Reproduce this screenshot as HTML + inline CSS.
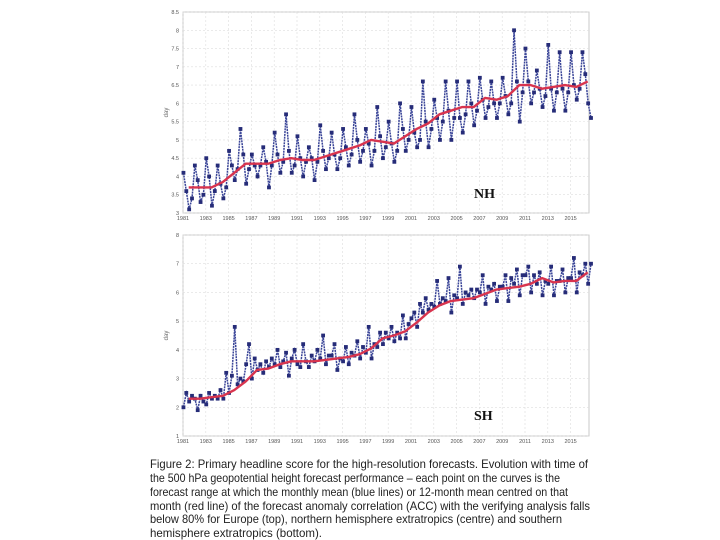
<!DOCTYPE html>
<html><head><meta charset="utf-8"><style>
html,body{margin:0;padding:0;background:#fff;width:720px;height:540px;overflow:hidden}
svg{display:block}
</style></head><body>
<svg id="fig" width="720" height="540" font-family="Liberation Sans, sans-serif">
<g id="nh"></g>
<g id="sh"></g>
<g id="cap" font-size="12" fill="#222">
<text x="150" y="468" textLength="438" lengthAdjust="spacingAndGlyphs">Figure 2: Primary headline score for the high-resolution forecasts. Evolution with time of</text>
<text x="150" y="482" textLength="410" lengthAdjust="spacingAndGlyphs">the 500 hPa geopotential height forecast performance – each point on the curves is the</text>
<text x="150" y="496" textLength="418" lengthAdjust="spacingAndGlyphs">forecast range at which the monthly mean (blue lines) or 12-month mean centred on that</text>
<text x="150" y="510" textLength="440" lengthAdjust="spacingAndGlyphs">month (red line) of the forecast anomaly correlation (ACC) with the verifying analysis falls</text>
<text x="150" y="523" textLength="412" lengthAdjust="spacingAndGlyphs">below 80% for Europe (top), northern hemisphere extratropics (centre) and southern</text>
<text x="150" y="537" textLength="172" lengthAdjust="spacingAndGlyphs">hemisphere extratropics (bottom).</text>
</g>
</svg>
<script>
const years=[1981,1982,1983,1984,1985,1986,1987,1988,1989,1990,1991,1992,1993,1994,1995,1996,1997,1998,1999,2000,2001,2002,2003,2004,2005,2006,2007,2008,2009,2010,2011,2012,2013,2014,2015,2016];
const xTickYears=[1981,1983,1985,1987,1989,1991,1993,1995,1997,1999,2001,2003,2005,2007,2009,2011,2013,2015];
const nhTicks=[3,3.5,4,4.5,5,5.5,6,6.5,7,7.5,8,8.5];
const shTicks=[1,2,3,4,5,6,7,8];
const nhQuarterly=[
4.1,3.6,3.1,3.4, 4.3,3.9,3.3,3.5, 4.5,4.0,3.2,3.6, 4.3,3.8,3.4,3.7, 4.7,4.3,3.9,4.2,
5.3,4.6,3.8,4.2, 4.6,4.3,4.0,4.3, 4.8,4.4,3.7,4.3, 5.2,4.6,4.1,4.4, 5.7,4.7,4.1,4.3,
5.1,4.5,4.0,4.4, 4.8,4.5,3.9,4.4, 5.4,4.7,4.2,4.5, 5.2,4.6,4.2,4.5, 5.3,4.8,4.3,4.6,
5.7,5.0,4.4,4.7, 5.3,4.9,4.3,4.7, 5.9,5.1,4.5,4.8, 5.5,4.9,4.4,4.7, 6.0,5.3,4.7,5.0,
5.9,5.2,4.8,5.0, 6.6,5.5,4.8,5.3, 6.1,5.6,5.0,5.5, 6.6,5.8,5.0,5.6, 6.6,5.6,5.2,5.7,
6.6,6.0,5.4,5.8, 6.7,6.1,5.6,5.9, 6.6,6.0,5.6,6.0, 6.7,6.2,5.7,6.0, 8.0,6.6,5.5,6.3,
7.5,6.6,6.0,6.3, 6.9,6.4,5.9,6.2, 7.6,6.4,5.8,6.3, 7.4,6.4,5.8,6.3, 7.4,6.5,6.1,6.4,
7.4,6.8,6.0,5.6];
const nhAnnual=[3.7,3.7,3.7,3.85,4.1,4.35,4.35,4.35,4.45,4.5,4.45,4.45,4.55,4.65,4.75,4.85,5.0,4.95,4.9,5.1,5.3,5.45,5.7,5.8,5.9,5.9,6.15,6.1,6.2,6.5,6.5,6.4,6.45,6.5,6.45,6.6];
const shQuarterly=[
2.0,2.5,2.2,2.4, 2.3,1.9,2.4,2.2, 2.1,2.5,2.3,2.4, 2.3,2.6,2.3,3.2, 2.5,3.1,4.8,2.8,
3.0,2.9,3.5,4.2, 3.0,3.7,3.3,3.5, 3.2,3.6,3.4,3.7, 3.5,4.0,3.4,3.6, 3.9,3.1,3.7,4.0,
3.5,3.4,4.2,3.6, 3.4,3.8,3.6,4.0, 3.7,4.5,3.5,3.8, 3.8,4.2,3.3,3.7, 3.6,4.1,3.5,3.9,
3.8,4.3,3.7,4.1, 3.9,4.8,3.7,4.2, 4.1,4.6,4.2,4.6, 4.4,4.8,4.3,4.6, 4.4,5.2,4.4,4.9,
5.1,5.3,4.8,5.6, 5.3,5.8,5.4,5.6, 5.5,6.4,5.6,5.8, 5.7,6.5,5.3,5.9, 5.8,6.9,5.6,6.0,
5.9,6.1,5.8,6.1, 6.0,6.6,5.6,6.2, 6.1,6.3,5.7,6.2, 6.2,6.6,5.7,6.5, 6.3,6.8,5.9,6.6,
6.6,6.9,6.0,6.6, 6.3,6.7,5.9,6.4, 6.3,6.9,5.9,6.4, 6.4,6.8,6.0,6.5, 6.5,7.2,6.0,6.7,
6.6,7.0,6.3,7.0];
const shAnnual=[2.3,2.3,2.35,2.4,2.6,2.9,3.3,3.35,3.5,3.6,3.6,3.6,3.65,3.7,3.75,3.85,4.05,4.4,4.5,4.65,4.95,5.3,5.55,5.7,5.75,5.8,5.95,6.1,6.15,6.2,6.3,6.5,6.35,6.4,6.4,6.7];

const NS='http://www.w3.org/2000/svg';
function mk(p,tag,attrs){const e=document.createElementNS(NS,tag);for(const k in attrs)e.setAttribute(k,attrs[k]);p.appendChild(e);return e;}
const X0=183,X1=589;
function xs(y){return X0+(y-1981)*11.4;}

function draw(g,yTop,yBot,vMin,vMax,ticks,quarterly,annual,label,ticksDec){
  const ys=v=>yBot-(v-vMin)/(vMax-vMin)*(yBot-yTop);
  const frame=mk(g,'rect',{x:X0,y:yTop,width:X1-X0,height:yBot-yTop,fill:'#fff',stroke:'#bbb','stroke-width':0.8});
  
  
  ticks.forEach(t=>{
    const l=mk(g,'line',{x1:X0,x2:X1,y1:ys(t),y2:ys(t),stroke:'#ddd','stroke-width':0.6,'stroke-dasharray':'2,2'});
    
    
    const tx=mk(g,'text',{x:X0-4,y:ys(t)+2,'font-size':5.5,fill:'#555','text-anchor':'end'});
    tx.textContent=ticksDec?(t%1?t.toFixed(1):String(t)):String(t);
    
    
  });
  xTickYears.forEach(yr=>{
    const l=mk(g,'line',{x1:xs(yr),x2:xs(yr),y1:yTop,y2:yBot,stroke:'#ddd','stroke-width':0.6,'stroke-dasharray':'2,2'});
    
    
    const tx=mk(g,'text',{x:xs(yr),y:yBot+7,'font-size':5.5,fill:'#555','text-anchor':'middle'});
    tx.textContent=String(yr);
    
    
  });
  const at=mk(g,'text',{x:0,y:0,'font-size':6,fill:'#666','text-anchor':'middle',transform:`translate(168,${(yTop+yBot)/2}) rotate(-90)`});
  at.textContent='day';
  
  
  const pts=quarterly.map((v,i)=>[xs(1981+i*0.25+0.04),ys(v)]);
  const bl=mk(g,'polyline',{points:pts.map(p=>p.join(',')).join(' '),fill:'none',stroke:'#3a4598','stroke-width':1.5,'stroke-dasharray':'2,0.8'});
  
  
  pts.forEach(p=>{
    const m=mk(g,'rect',{x:p[0]-1.9,y:p[1]-1.9,width:3.8,height:3.8,fill:'#262c78'});
    
    
  });
  const rp=annual.map((v,i)=>[xs(years[i]+0.5),ys(v)]);
  const rl=mk(g,'polyline',{points:rp.map(p=>p.join(',')).join(' '),fill:'none',stroke:'#d8344e','stroke-width':2.4,'stroke-linejoin':'round'});
  
  
  const lb=mk(g,'text',{x:474,y:label=='NH'?198:420,'font-size':14,'font-weight':'bold',fill:'#111','font-family':'Liberation Serif, serif'});
  lb.textContent=label;
  
  
}
draw(document.getElementById('nh'),12,213,3,8.5,nhTicks,nhQuarterly,nhAnnual,'NH',true);
draw(document.getElementById('sh'),235,436,1,8,shTicks,shQuarterly,shAnnual,'SH',false);
</script>
</body></html>
